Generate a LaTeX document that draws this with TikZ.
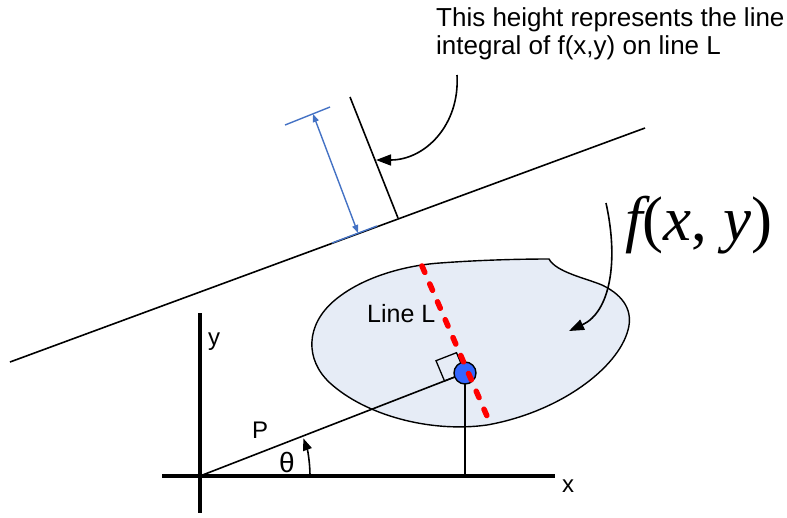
\documentclass[tikz,border=0pt]{standalone}
\usepackage{fontspec}
\setmainfont{Liberation Sans}
\newfontfamily\timesfont{Liberation Serif}
\usetikzlibrary{arrows.meta}
\definecolor{blobfill}{RGB}{230,236,246}
\definecolor{dimblue}{RGB}{68,114,196}
\definecolor{dotblue}{RGB}{51,102,255}
\tikzset{
  thinline/.style={draw=black, line width=1.6pt},
  axisline/.style={draw=black, line width=4pt},
  dimline/.style={draw=dimblue, line width=1.4pt},
  callout/.style={draw=black, line width=1.6pt, -{Triangle[length=15pt,width=11pt]}},
  lbl/.style={inner sep=0pt, font=\fontsize{24}{28}\selectfont},
}
\begin{document}
\begin{tikzpicture}[x=1pt,y=-1pt]
\useasboundingbox (0,0) rectangle (787,517);

% long projection line and height bar
\coordinate (l1) at (10,362);
\coordinate (l2) at (645,128);
\draw[thinline] (l1) -- (l2);
\coordinate (h1) at (350,97);
\coordinate (h2) at (398,218);
\draw[thinline] (h1) -- (h2);

% blue dimension
\coordinate (t1a) at (285,125); \coordinate (t1b) at (330,107);
\coordinate (t2a) at (332,243); \coordinate (t2b) at (377,226);
\coordinate (d1) at (313,114); \coordinate (d2) at (358,233);
\draw[dimline] (t1a) -- (t1b);
\draw[dimline] (t2a) -- (t2b);
\draw[dimline, {Triangle[length=8pt,width=6pt]}-{Triangle[length=8pt,width=6pt]}] (d1) -- (d2);

% note text and its callout
\node[lbl, anchor=north west, align=left, font=\fontsize{26}{28}\selectfont] (note) at (436,7)
  {This height represents the line\\integral of f(x,y) on line L};
\coordinate (c1) at (457,75);
\coordinate (c2) at (376,160);
\draw[callout] (c1) .. controls (460,125) and (425,160) .. (c2);

% blob f(x,y)
\path[draw=black, line width=1.4pt, fill=blobfill]
  (549,259) .. controls (556,272) and (585,278) .. (602,285)
  .. controls (625,296) and (633,312) .. (628,330)
  .. controls (618,368) and (560,412) .. (487,425)
  .. controls (430,433) and (365,415) .. (330,383)
  .. controls (305,360) and (305,325) .. (335,300)
  .. controls (365,275) and (410,265) .. (440,263)
  .. controls (480,260) and (520,259) .. (549,259) -- cycle;

\node[lbl, anchor=base west, font=\fontsize{25}{28}\selectfont] (lineL) at (367,322) {Line L};

% f(x,y) label and callout
\node[inner sep=0pt, anchor=base west, font=\timesfont\fontsize{63}{63}\selectfont] (fxy) at (625,240)
  {{\itshape f}({\itshape x}, {\itshape y})};
\coordinate (f1) at (606,203);
\coordinate (f2) at (569,331);
\draw[callout] (f1) .. controls (619,262) and (610,312) .. (f2);

% axes
\coordinate (O) at (200,476);
\coordinate (xa) at (162,476); \coordinate (xb) at (555,476);
\coordinate (ya) at (200,313); \coordinate (yb) at (200,513);
\draw[axisline] (xa) -- (xb);
\draw[axisline] (ya) -- (yb);
\node[lbl, anchor=base west] (xl) at (562,492) {x};
\node[lbl, anchor=base west] (yl) at (208,345) {y};

% line P, right angle, foot point
\coordinate (Pt) at (465,373);
\draw[thinline] (O) -- (Pt);
\draw[thinline, line width=1.3pt] (Pt) -- ++(-20.5,8) -- ++(-8.5,-20.3) -- ++(20.5,-8) -- cycle;
\coordinate (xf) at (465,476);
\draw[thinline] (Pt) -- (xf);
\node[circle, draw=black, line width=1.4pt, fill=dotblue, minimum size=22pt, inner sep=0pt] (dot) at (Pt) {};

% red line L
\coordinate (r1) at (422,266);
\coordinate (r2) at (490,423);
\draw[red, line width=5.5pt, line cap=round, dash pattern=on 7pt off 12.5pt] (r1) -- (r2);

\node[lbl, anchor=base west] (Pl) at (252,438) {P};

% angle theta
\coordinate (a0) at (310,476);
\draw[thinline, -{Triangle[length=12pt,width=9pt]}] (a0) arc[start angle=0, end angle=-20, radius=110];
\node[lbl, anchor=base west, font=\fontsize{28}{28}\selectfont] (th) at (279,472) {θ};
\end{tikzpicture}
\end{document}
